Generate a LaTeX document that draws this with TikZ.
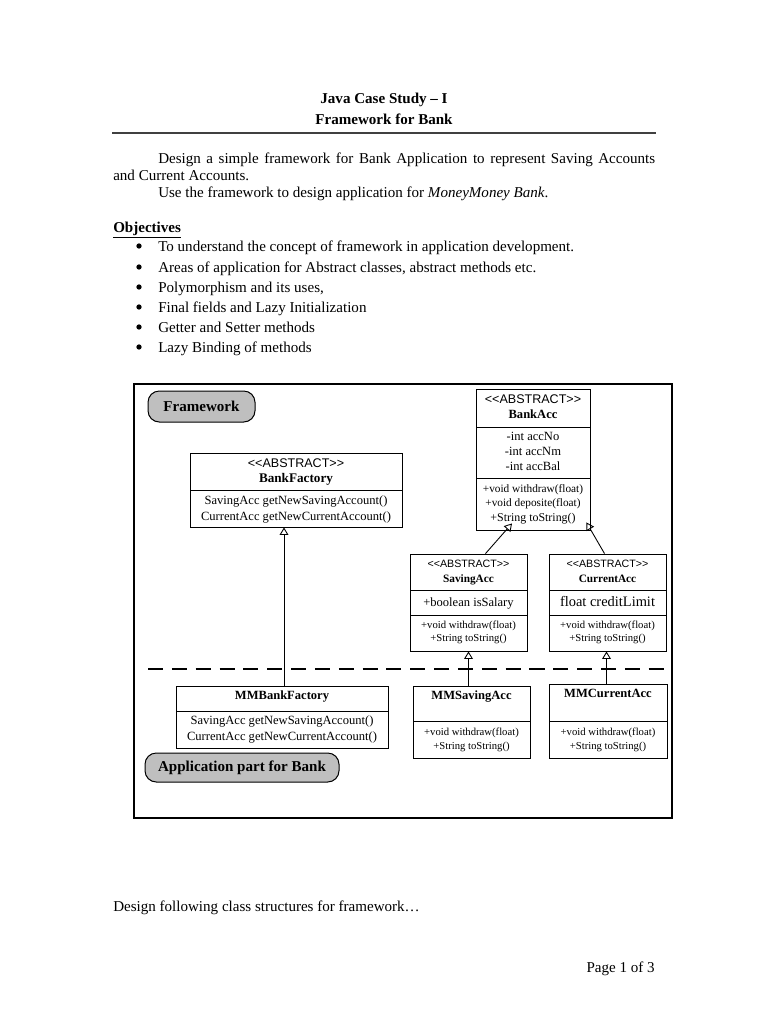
\documentclass[tikz,border=0pt]{standalone}
\usepackage{fontspec}
\setmainfont{Liberation Serif}
\newfontfamily\arialf{Liberation Sans}
\usetikzlibrary{arrows.meta,fit,calc}
\newcommand{\stereotxt}{\mbox{<}\mbox{<}ABSTRACT\mbox{>}\mbox{>}}
\begin{document}
\begin{tikzpicture}[x=0.796875pt,y=-0.796875pt,
  body/.style={inner sep=0pt, anchor=base west, font=\fontsize{12}{14}\selectfont},
  bulletdot/.style={circle, fill=black, inner sep=0pt, minimum size=4.2pt},
  cls/.style={draw, line width=0.7pt, inner sep=0pt, fit={#1}},
  sepline/.style={line width=0.7pt},
  stereo/.style={inner sep=0pt, anchor=base, font=\arialf\fontsize{#1}{#1}\selectfont},
  cname/.style={inner sep=0pt, anchor=base, font=\bfseries\fontsize{#1}{#1}\selectfont},
  member/.style={inner sep=0pt, anchor=base, font=\fontsize{#1}{#1}\selectfont},
  gen/.style={line width=0.7pt, -{Triangle[open,length=6pt,width=7pt]}},
  partbox/.style={draw, line width=0.8pt, fill=black!25, rounded corners=9pt, inner sep=0pt, fit={#1}},
  parttext/.style={inner sep=0pt, font=\bfseries\fontsize{12}{14}\selectfont},
]
\useasboundingbox (0,0) rectangle (768,1024);
\fill[white] (0,0) rectangle (768,1024);

% header
\node[inner sep=0pt, anchor=base, font=\bfseries\fontsize{12}{14}\selectfont] (t1) at (384,103) {Java Case Study – I};
\node[inner sep=0pt, anchor=base, font=\bfseries\fontsize{12}{14}\selectfont] (t2) at (384,124) {Framework for Bank};
\draw[line width=1.1pt, black!75] (112,133) -- (656,133);

\node[body] (p1) at (158,163) {\makebox[396pt][s]{Design a simple framework for Bank Application to represent Saving Accounts}};
\node[body] (p2) at (113,180) {and Current Accounts.};
\node[body] (p3) at (158,197) {Use the framework to design application for \textit{MoneyMoney Bank}.};
\node[body] (obj) at (113,232) {\underline{\textbf{Objectives}}};
\foreach \yy/\tt [count=\i] in {251/{To understand the concept of framework in application development.},
  272/{Areas of application for Abstract classes, abstract methods etc.},
  292/{Polymorphism and its uses,},
  312/{Final fields and Lazy Initialization},
  332/{Getter and Setter methods},
  352/{Lazy Binding of methods}} {
  \node[bulletdot] (dot\i) at (139,\yy-5) {};
  \node[body] (bul\i) at (158,\yy) {\tt};
}

% diagram frame
\draw[line width=1pt] (134,384) rectangle (672,818);

\node[partbox={(148,391)(255,422)}] (fw) {};
\node[parttext] (fwt) at (fw.center) {Framework};
\node[partbox={(145,753)(339,782)}] (app) {};
\node[parttext] (appt) at (app.center) {Application part for Bank};

% BankFactory
\node[cls={(190,453)(402,527)}] (bf) {};
\draw[sepline] (190,490) -- (402,490);
\node[stereo=10] (bfs) at (296,467) {\stereotxt};
\node[cname=10.5] (bfn) at (296,482) {BankFactory};
\node[member=10] (bfm1) at (296,504) {SavingAcc getNewSavingAccount()};
\node[member=10] (bfm2) at (296,520) {CurrentAcc getNewCurrentAccount()};

% BankAcc
\node[cls={(476,389)(590,530)}] (ba) {};
\draw[sepline] (476,427) -- (590,427);
\draw[sepline] (476,478) -- (590,478);
\node[stereo=10] (bas) at (533,403) {\stereotxt};
\node[cname=10] (ban) at (533,418) {BankAcc};
\node[member=10] (baa1) at (533,440) {-int accNo};
\node[member=10] (baa2) at (533,455) {-int accNm};
\node[member=10] (baa3) at (533,470) {-int accBal};
\node[member=9] (bam1) at (533,492) {+void withdraw(float)};
\node[member=9] (bam2) at (533,506) {+void deposite(float)};
\node[member=9.5] (bam3) at (533,521) {+String toString()};

% SavingAcc
\node[cls={(410,554)(527,651)}] (sa) {};
\draw[sepline] (410,590) -- (527,590);
\draw[sepline] (410,615) -- (527,615);
\node[stereo=8.5] (sas) at (468.5,567) {\stereotxt};
\node[cname=9] (san) at (468.5,582) {SavingAcc};
\node[member=10] (saa) at (468.5,606) {+boolean isSalary};
\node[member=8.5] (sam1) at (468.5,628) {+void withdraw(float)};
\node[member=8.5] (sam2) at (468.5,641) {+String toString()};

% CurrentAcc
\node[cls={(549,554)(666,651)}] (ca) {};
\draw[sepline] (549,590) -- (666,590);
\draw[sepline] (549,615) -- (666,615);
\node[stereo=8.5] (cas) at (607.5,567) {\stereotxt};
\node[cname=9] (can) at (607.5,582) {CurrentAcc};
\node[member=11.5] (caa) at (607.5,606) {float creditLimit};
\node[member=8.5] (cam1) at (607.5,628) {+void withdraw(float)};
\node[member=8.5] (cam2) at (607.5,641) {+String toString()};

% dashed separator
\draw[line width=1pt, dash pattern=on 12pt off 7pt] (148,669) -- (665,669);

% MMBankFactory
\node[cls={(176,686)(388,748)}] (mbf) {};
\draw[sepline] (176,711) -- (388,711);
\node[cname=10] (mbfn) at (282,699) {MMBankFactory};
\node[member=10] (mbfm1) at (282,724) {SavingAcc getNewSavingAccount()};
\node[member=10] (mbfm2) at (282,740) {CurrentAcc getNewCurrentAccount()};

% MMSavingAcc
\node[cls={(413,686)(530,758)}] (msa) {};
\draw[sepline] (413,721) -- (530,721);
\node[cname=10] (msan) at (471.5,699) {MMSavingAcc};
\node[member=8.5] (msam1) at (471.5,735) {+void withdraw(float)};
\node[member=8.5] (msam2) at (471.5,749) {+String toString()};

% MMCurrentAcc
\node[cls={(549,684)(667,758)}] (mca) {};
\draw[sepline] (549,721) -- (667,721);
\node[cname=10] (mcan) at (608,697) {MMCurrentAcc};
\node[member=8.5] (mcam1) at (608,735) {+void withdraw(float)};
\node[member=8.5] (mcam2) at (608,749) {+String toString()};

% generalisations
\coordinate (mbfa) at ($(mbf.north)+(2,0)$);
\coordinate (caa2) at ($(ca.south)+(-1,0)$);
\draw[gen] (mbfa) -- (mbfa |- bf.south);
\draw[gen] (sa.south |- msa.north) -- (sa.south);
\draw[gen] (caa2 |- mca.north) -- (caa2);
\draw[gen] ($(sa.north)+(17,0)$) -- ($(ba.south)+(-21,-7)$);
\draw[gen] ($(ca.north)+(-3,0)$) -- ($(ba.south east)+(-4,-8)$);

% footer
\node[body] (foot) at (113,911) {Design following class structures for framework…};
\node[inner sep=0pt, anchor=base east, font=\fontsize{12}{14}\selectfont] (page) at (655,972) {Page 1 of 3};
\end{tikzpicture}
\end{document}
